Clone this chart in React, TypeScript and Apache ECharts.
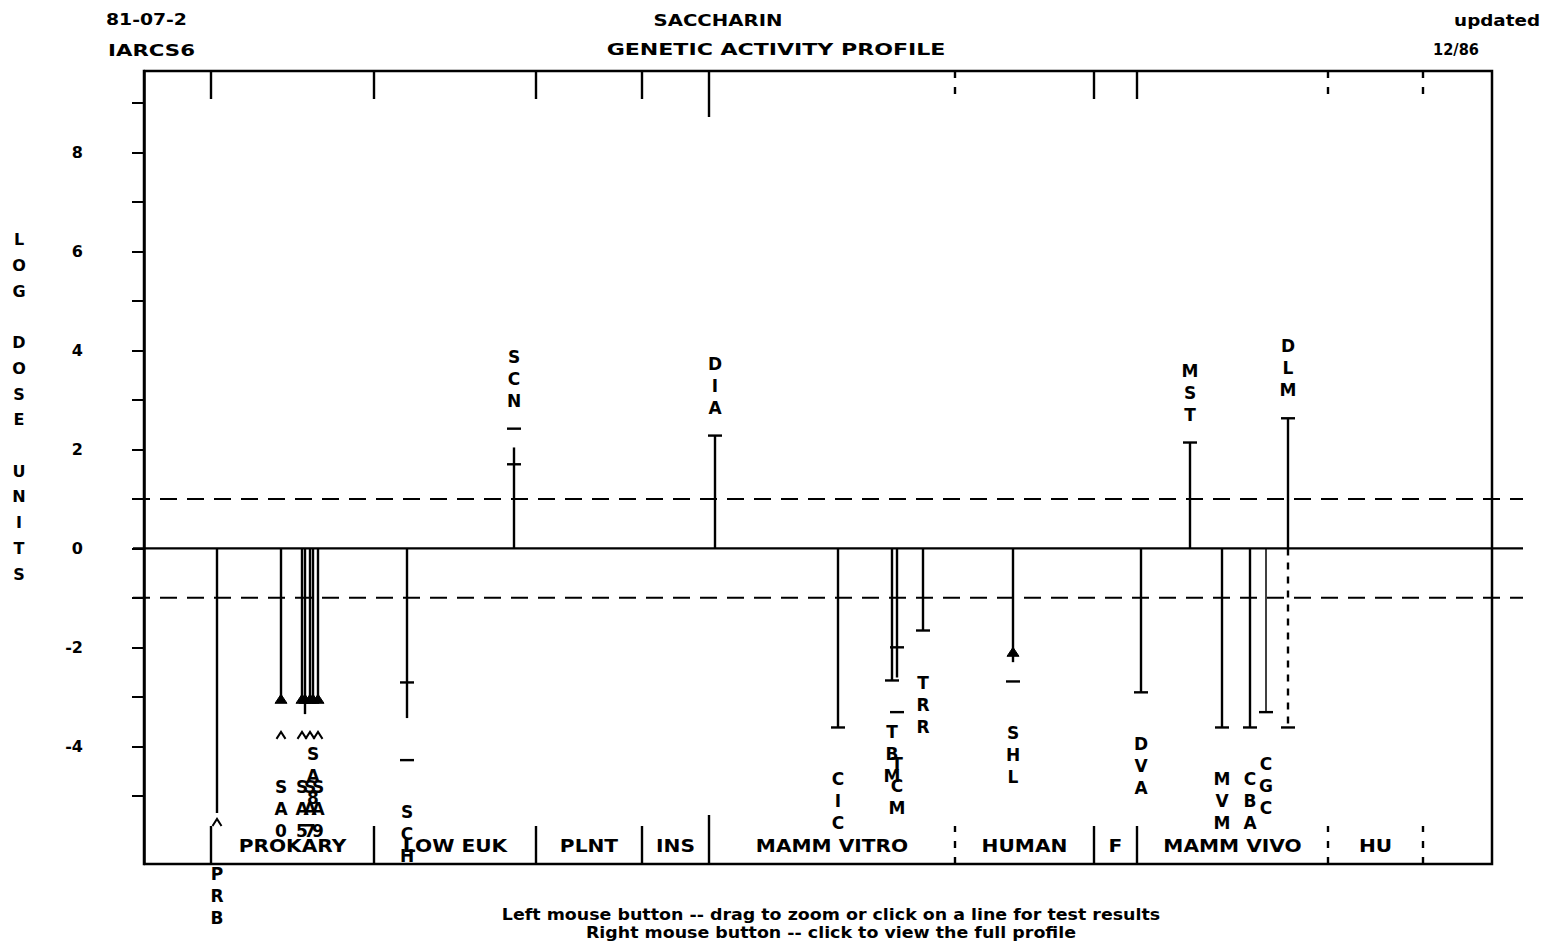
import React, { useEffect, useRef } from "react";
import * as echarts from "echarts";

// ---------- data ----------
const yAxisTitle = "LOG DOSE UNITS";
const yTickValues = [-5, -4, -3, -2, -1, 0, 1, 2, 3, 4, 5, 6, 7, 8, 9];
const yLabelValues = [-4, -2, 0, 2, 4, 6, 8];
const yMin = -6.38;
const yMax = 9.65;
const xMin = 0;
const xMax = 134.8;

const sectionNames = ["PROKARY", "LOW EUK", "PLNT", "INS", "MAMM VITRO", "HUMAN", "F", "MAMM VIVO", "HU", ""];
const sectionStarts = [6.7, 23.0, 39.2, 49.8, 56.5, 81.1, 95.0, 99.3, 118.4, 127.9];
const sectionEnd = 134.8;
const boundaryKinds = ["solid", "solid", "solid", "solid", "major", "dashed", "solid", "solid", "dashed", "dashed"];

const testCodes = ["PRB", "SA0", "SA5", "", "SA7", "SA8", "SA9", "SCH", "SCN", "DIA", "CIC", "TBM", "TCM", "TRR", "SHL", "DVA", "MST", "MVM", "CBA", "CGC", "DLM", ""];
const testX = [7.3, 13.7, 15.8, 16.1, 16.6, 16.9, 17.4, 26.3, 37.0, 57.1, 69.4, 74.8, 75.3, 77.9, 86.9, 99.7, 104.6, 107.8, 110.6, 112.2, 114.4, 114.4];
const testDose = [-5.35, -3.11, -3.11, -3.35, -3.11, -3.11, -3.11, -3.43, 2.04, 2.28, -3.62, -2.67, -2.61, -1.66, -2.3, -2.91, 2.14, -3.62, -3.62, -3.31, 2.63, -3.62];
const testCap = ["none", "none", "none", "none", "none", "none", "none", "none", "none", "bar", "bar", "bar", "none", "bar", "none", "bar", "bar", "bar", "bar", "bar", "bar", "bar"];
const testLine = ["solid", "solid", "solid", "solid", "solid", "solid", "solid", "solid", "solid", "solid", "solid", "solid", "solid", "solid", "solid", "solid", "solid", "solid", "solid", "thin", "solid", "dashed"];

// extra marks on test lines: test index, value, kind
const markTest = [1, 2, 3, 4, 5, 6, 14, 0, 1, 2, 4, 6, 7, 8, 12, 14, 7, 8, 12];
const markValue = [-3.05, -3.05, -3.05, -3.05, -3.05, -3.05, -2.1, -5.54, -3.78, -3.78, -3.78, -3.78, -4.28, 2.42, -3.31, -2.69, -2.71, 1.7, -2.0];
const markKind = ["arrow", "arrow", "arrow", "arrow", "arrow", "arrow", "arrow", "caret", "caret", "caret", "caret", "caret", "dash", "dash", "dash", "dash", "cross", "cross", "cross"];

const refLevels = [1, 0, -1];
const refKinds = ["dashed", "solid", "dashed"];
const refExtent = [-1.1, 137.9];

const headerLeft = ["81-07-2", "IARCS6"];
const headerCenter = ["SACCHARIN", "GENETIC ACTIVITY PROFILE"];
const headerRight = ["updated", "12/86"];
const footerLines = [
  "Left mouse button -- drag to zoom or click on a line for test results",
  "Right mouse button -- click to view the full profile",
];

// ---------- helpers ----------
const FAMILY = '"DejaVu Sans", "Liberation Sans", sans-serif';
const font = (size: number) => `bold ${size}px ${FAMILY}`;

let measureCtx: CanvasRenderingContext2D | null = null;
function textWidth(text: string, f: string): number {
  if (!measureCtx) measureCtx = document.createElement("canvas").getContext("2d");
  if (!measureCtx) return text.length * 9;
  measureCtx.font = f;
  return measureCtx.measureText(text).width;
}
function fitScale(text: string, f: string, width: number): number {
  const w = textWidth(text, f);
  return w > 0 ? width / w : 1;
}

function txt(text: string, x: number, y: number, size: number, align: string, width?: number) {
  const f = font(size);
  const sx = width ? fitScale(text, f, width) : 1;
  return {
    type: "text",
    x,
    y,
    scaleX: sx,
    silent: true,
    style: {
      text,
      font: f,
      fill: "#000",
      textAlign: align,
      textVerticalAlign: "middle",
    },
  };
}

export default function App() {
  const ref = useRef<HTMLDivElement>(null);

  useEffect(() => {
    if (!ref.current) return;
    const chart = echarts.init(ref.current, null, { renderer: "svg" });

    const LW = 2.4;
    const black = "#000";

    const renderTest = (params: any, api: any) => {
      const i = api.value(2);
      const x = testX[i];
      const dose = testDose[i];
      const c0 = api.coord([x, 0]);
      const px = c0[0];
      const p0 = c0[1];
      const p1 = api.coord([x, dose])[1];
      const children: any[] = [];
      children.push({
        type: "line",
        shape: { x1: px, y1: p0, x2: px, y2: p1 },
        style: {
          stroke: black,
          lineWidth: testLine[i] === "thin" ? 1.5 : LW,
          lineDash: testLine[i] === "dashed" ? [7, 7] : null,
        },
      });
      if (testCap[i] === "bar") {
        children.push({ type: "line", shape: { x1: px - 7, y1: p1, x2: px + 7, y2: p1 }, style: { stroke: black, lineWidth: LW } });
      }
      let ext = dose;
      markTest.forEach((t, k) => {
        if (t !== i) return;
        const v = markValue[k];
        const py = api.coord([x, v])[1];
        const kind = markKind[k];
        if (kind === "cross" || kind === "dash") {
          children.push({ type: "line", shape: { x1: px - 7, y1: py, x2: px + 7, y2: py }, style: { stroke: black, lineWidth: LW } });
        } else if (kind === "caret") {
          children.push({
            type: "polyline",
            shape: { points: [[px - 4.5, py + 3.5], [px, py - 3.5], [px + 4.5, py + 3.5]] },
            style: { stroke: black, lineWidth: 2, fill: null },
          });
        } else if (kind === "arrow") {
          children.push({
            type: "polygon",
            shape: { points: [[px - 6, py + 4], [px, py - 5], [px + 6, py + 4]] },
            style: { fill: black, stroke: black, lineWidth: 1 },
          });
        }
        ext = dose < 0 ? Math.min(ext, v) : Math.max(ext, v);
      });
      const pe = api.coord([x, ext])[1];
      const letters = testCodes[i].split("");
      letters.forEach((ch, j) => {
        const cy = dose < 0 ? pe + 52 + j * 22 : pe - 28 - (letters.length - 1 - j) * 22;
        children.push({
          type: "text",
          x: px,
          y: cy,
          style: { text: ch, font: font(17), fill: black, textAlign: "center", textVerticalAlign: "middle" },
        });
      });
      return { type: "group", children };
    };

    const renderSection = (params: any, api: any) => {
      const i = api.value(2);
      const cs = params.coordSys;
      const top = cs.y;
      const bottom = cs.y + cs.height;
      const start = sectionStarts[i];
      const next = i + 1 < sectionStarts.length ? sectionStarts[i + 1] : sectionEnd;
      const px = api.coord([start, 0])[0];
      const cx = api.coord([(start + next) / 2, 0])[0];
      const kind = boundaryKinds[i];
      const topLen = kind === "major" ? 46 : 28;
      const botLen = kind === "major" ? 49 : 38;
      const dash = kind === "dashed" ? [7, 9] : null;
      const children: any[] = [
        { type: "line", shape: { x1: px, y1: top, x2: px, y2: top + topLen }, style: { stroke: black, lineWidth: LW, lineDash: dash } },
        { type: "line", shape: { x1: px, y1: bottom, x2: px, y2: bottom - botLen }, style: { stroke: black, lineWidth: LW, lineDash: dash } },
      ];
      if (sectionNames[i]) {
        children.push({
          type: "text",
          x: cx,
          y: bottom - 18,
          scaleX: 1.12,
          style: { text: sectionNames[i], font: font(18), fill: black, textAlign: "center", textVerticalAlign: "middle" },
        });
      }
      return { type: "group", children };
    };

    const renderRef = (params: any, api: any) => {
      const k = api.value(2);
      const v = refLevels[k];
      const a = api.coord([refExtent[0], v]);
      const b = api.coord([refExtent[1], v]);
      return {
        type: "line",
        shape: { x1: a[0], y1: a[1], x2: b[0], y2: b[1] },
        style: {
          stroke: black,
          lineWidth: refKinds[k] === "dashed" ? 2 : 2.4,
          lineDash: refKinds[k] === "dashed" ? [17, 10] : null,
        },
      };
    };

    const yTitleText = yAxisTitle.split("").join("\n");

    const footScale = fitScale(footerLines[0], font(15), 659);

    chart.setOption({
      animation: false,
      backgroundColor: "#fff",
      grid: {
        left: 144,
        right: 61,
        top: 71,
        bottom: 87,
        containLabel: false,
        outerBoundsMode: "none",
        show: true,
        borderColor: black,
        borderWidth: 2.5,
        backgroundColor: "transparent",
      },
      xAxis: {
        type: "value",
        min: xMin,
        max: xMax,
        axisLine: { show: false },
        axisTick: { show: false },
        axisLabel: { show: false },
        splitLine: { show: false },
      },
      yAxis: {
        type: "value",
        min: yMin,
        max: yMax,
        axisLine: { show: true, lineStyle: { color: black, width: 2.5 } },
        axisTick: { show: true, customValues: yTickValues, length: 12, lineStyle: { color: black, width: 2 } },
        axisLabel: {
          show: true,
          customValues: yLabelValues,
          margin: 61,
          color: black,
          fontSize: 16,
          fontWeight: "bold",
          fontFamily: FAMILY,
          formatter: (v: number) => String(v),
        },
        splitLine: { show: false },
      },
      graphic: [
        txt(headerLeft[0], 106, 20, 16, "left", 81),
        txt(headerLeft[1], 108, 50, 16, "left", 87),
        txt(headerCenter[0], 718, 20, 16, "center", 129),
        txt(headerCenter[1], 776, 50, 16, "center", 339),
        txt(headerRight[0], 1540, 20, 16, "right", 86),
        txt(headerRight[1], 1456, 50, 16, "center", 46),
        {
          type: "text",
          x: 19,
          y: 240 - 12.85,
          silent: true,
          style: { text: yTitleText, font: font(16), fill: black, textAlign: "center", textVerticalAlign: "top", lineHeight: 25.7 },
        },
        {
          type: "text",
          x: 831,
          y: 915,
          scaleX: footScale,
          silent: true,
          style: { text: footerLines[0], font: font(15), fill: black, textAlign: "center", textVerticalAlign: "middle" },
        },
        {
          type: "text",
          x: 831,
          y: 933,
          scaleX: footScale,
          silent: true,
          style: { text: footerLines[1], font: font(15), fill: black, textAlign: "center", textVerticalAlign: "middle" },
        },
      ],
      series: [
        {
          type: "custom",
          coordinateSystem: "cartesian2d",
          clip: false,
          silent: true,
          z: 1,
          data: refLevels.map((v, k) => [0, v, k]),
          renderItem: renderRef,
        },
        {
          type: "custom",
          coordinateSystem: "cartesian2d",
          clip: false,
          silent: true,
          z: 3,
          data: sectionStarts.map((s, i) => [s, 0, i]),
          renderItem: renderSection,
        },
        {
          type: "custom",
          coordinateSystem: "cartesian2d",
          clip: false,
          silent: true,
          z: 4,
          data: testX.map((x, i) => [x, testDose[i], i]),
          renderItem: renderTest,
        },
      ],
    });

    return () => chart.dispose();
  }, []);

  return <div ref={ref} style={{ position: "absolute", left: 0, top: 0, width: 1553, height: 951, background: "#fff" }} />;
}
